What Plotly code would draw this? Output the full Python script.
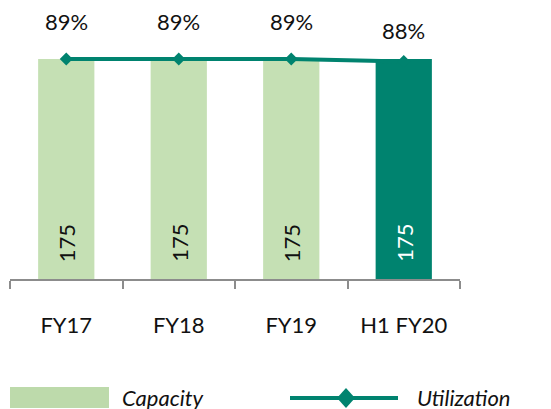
import plotly.graph_objects as go

categories = ["FY17", "FY18", "FY19", "H1 FY20"]
capacity = [175, 175, 175, 175]
utilization = [89, 89, 89, 88]

LIGHT = "#c5e0b4"
DARK = "#00836f"
FONT = "Lato"

OFF = 8  # page body margin
W, H = 551 - OFF, 409 - OFF
L, R, T, B = 10 - OFF, 460 - OFF, 20 - OFF, 279 - OFF  # plot area in figure pixels


def px_x(x):
    # x given in window pixels
    return (x - OFF - L) / (R - L)


def px_y(y):
    return (B - (y - OFF)) / (B - T)


bar_colors = [LIGHT] * (len(categories) - 1) + [DARK]
bar_text_colors = ["#111111"] * (len(categories) - 1) + ["#ffffff"]
pct_shift = [38, 38, 38, 31]

fig = go.Figure()
fig.add_trace(go.Bar(
    x=categories, y=capacity, marker=dict(color=bar_colors, line_width=0),
    width=0.5, name="Capacity", showlegend=False, yaxis="y",
))
fig.add_trace(go.Scatter(
    x=categories, y=utilization, mode="lines+markers", name="Utilization",
    line=dict(color=DARK, width=4), marker=dict(symbol="diamond", size=10, color=DARK),
    showlegend=False, yaxis="y2",
))

annotations = []
for c, v, s in zip(categories, utilization, pct_shift):
    annotations.append(dict(x=c, y=v, xref="x", yref="y2", text=f"{v}%", showarrow=False,
                            yshift=s, font=dict(family=FONT, size=22, color="#111111")))
for c, v, col in zip(categories, capacity, bar_text_colors):
    annotations.append(dict(x=c, y=0, xref="x", yref="y", text=str(v), showarrow=False,
                            textangle=-90, yshift=36, yanchor="middle",
                            font=dict(family=FONT, size=22, color=col)))

# legend (custom)
annotations.append(dict(x=px_x(120), y=px_y(397), xref="paper", yref="paper", text="Capacity",
                        showarrow=False, xanchor="left", yanchor="middle",
                        font=dict(family=FONT, size=22, color="#111111", style="italic")))
annotations.append(dict(x=px_x(415), y=px_y(397), xref="paper", yref="paper", text="Utilization",
                        showarrow=False, xanchor="left", yanchor="middle",
                        font=dict(family=FONT, size=22, color="#111111", style="italic")))

shapes = [
    dict(type="rect", xref="paper", yref="paper", x0=px_x(10), x1=px_x(109),
         y0=px_y(408), y1=px_y(387), fillcolor="#bddaab", line_width=0),
    dict(type="line", xref="paper", yref="paper", x0=px_x(290), x1=px_x(398),
         y0=px_y(398), y1=px_y(398), line=dict(color=DARK, width=4)),
    dict(type="path", xref="paper", yref="paper",
         path=(f"M {px_x(337)} {px_y(398)} L {px_x(346)} {px_y(388)} "
               f"L {px_x(355)} {px_y(398)} L {px_x(346)} {px_y(408)} Z"),
         fillcolor=DARK, line_width=0),
]

y1max = 175 * (B - T) / (B - (59 - OFF))
y2max = 89 * (B - T) / (B - (59 - OFF))

fig.update_layout(
    width=W, height=H, margin=dict(l=L, r=W - R, t=T, b=H - B),
    paper_bgcolor="white", plot_bgcolor="white",
    font=dict(family=FONT, size=22, color="#111111"),
    bargap=0.5, annotations=annotations, shapes=shapes, showlegend=False,
    xaxis=dict(type="category", showline=True, linecolor="#8c8c8c", linewidth=2,
               ticks="outside", tickson="boundaries", ticklen=8, tickcolor="#8c8c8c",
               tickwidth=2, showgrid=False, zeroline=False, ticklabelstandoff=26,
               tickfont=dict(family=FONT, size=22, color="#111111")),
    yaxis=dict(range=[0, y1max], visible=False, showgrid=False, zeroline=False),
    yaxis2=dict(range=[0, y2max], overlaying="y", visible=False, showgrid=False,
                zeroline=False),
)

fig.write_html("out.html")
